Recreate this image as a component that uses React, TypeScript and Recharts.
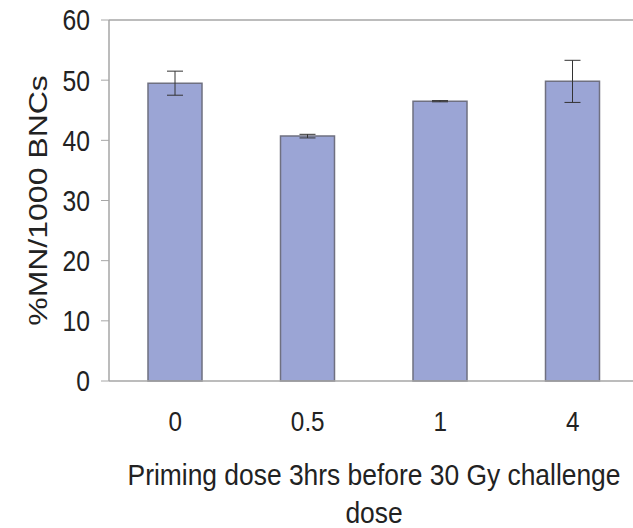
import { BarChart, Bar, XAxis, YAxis, ErrorBar, ReferenceLine } from 'recharts';

const doses = ['0', '0.5', '1', '4'];
const mnValues = [49.5, 40.7, 46.5, 49.8];
const mnErrors = [2.0, 0.3, 0.1, 3.5];
const yTicks = [0, 10, 20, 30, 40, 50, 60];
const edgeTicks = [0, 1, 2, 3, 4];

const data = doses.map((dose, i) => ({ dose, value: mnValues[i], err: mnErrors[i] }));

const font = "'Liberation Sans', Arial, sans-serif";
const axisGray = '#a6a6a6';
const ink = '#222';

// the source figure's text is slightly condensed
const XTick = ({ x, y, payload }: any) => (
  <g transform={`translate(${x},${y}) scale(0.9,1)`}>
    <text x={0} y={0} dy="0.71em" textAnchor="middle" fontSize={27} fill={ink} fontFamily={font}>
      {payload.value}
    </text>
  </g>
);

const YTick = ({ x, y, payload }: any) => (
  <g transform={`translate(${x},${y}) scale(0.85,1)`}>
    <text x={0} y={0} dy="0.36em" textAnchor="end" fontSize={29} fill={ink} fontFamily={font}>
      {payload.value}
    </text>
  </g>
);

export default function App() {
  return (
    <div style={{ position: 'absolute', left: 0, top: 0, width: 633, height: 528, overflow: 'hidden', background: '#fff' }}>
      <BarChart width={640} height={528} data={data} margin={{ top: 20, right: 1, bottom: 0, left: 0 }}>
        {/* boundary ticks between categories */}
        <XAxis
          xAxisId="edge"
          type="number"
          domain={[0, 4]}
          ticks={edgeTicks}
          height={0}
          axisLine={false}
          tickLine={{ stroke: axisGray }}
          tickSize={9}
          tickFormatter={() => ''}
        />
        <XAxis
          dataKey="dose"
          height={147}
          axisLine={{ stroke: axisGray, strokeWidth: 1.5 }}
          tickLine={false}
          tickSize={0}
          tickMargin={31}
          tick={<XTick />}
          label={{
            content: ({ viewBox }: any) => {
              const cx = viewBox.x + viewBox.width / 2;
              return (
                <g transform={`translate(${cx},${viewBox.y}) scale(0.88,1)`}>
                  <text x={0} textAnchor="middle" fontSize={30} fill={ink} fontFamily={font}>
                    <tspan x={0} y={104}>Priming dose 3hrs before 30 Gy challenge</tspan>
                    <tspan x={0} y={142}>dose</tspan>
                  </text>
                </g>
              );
            },
          }}
        />
        <YAxis
          domain={[0, 60]}
          ticks={yTicks}
          width={109}
          axisLine={{ stroke: axisGray, strokeWidth: 1.5 }}
          tickLine={{ stroke: axisGray }}
          tickSize={8}
          tickMargin={11}
          tick={<YTick />}
          label={{
            content: ({ viewBox }: any) => {
              const cy = viewBox.y + viewBox.height / 2;
              return (
                <g transform={`translate(38,${cy}) rotate(-90) scale(1,0.82)`}>
                  <text x={0} y={0} textAnchor="middle" dominantBaseline="central" fontSize={32} fill={ink} fontFamily={font}>
                    %MN/1000 BNCs
                  </text>
                </g>
              );
            },
          }}
        />
        <ReferenceLine y={60} stroke={axisGray} strokeWidth={1.5} />
        <Bar dataKey="value" barSize={54} fill="#9ba5d5" stroke="#6f7080" strokeWidth={1.5} isAnimationActive={false}>
          <ErrorBar dataKey="err" width={8} stroke="#333" strokeWidth={1} />
        </Bar>
      </BarChart>
    </div>
  );
}
